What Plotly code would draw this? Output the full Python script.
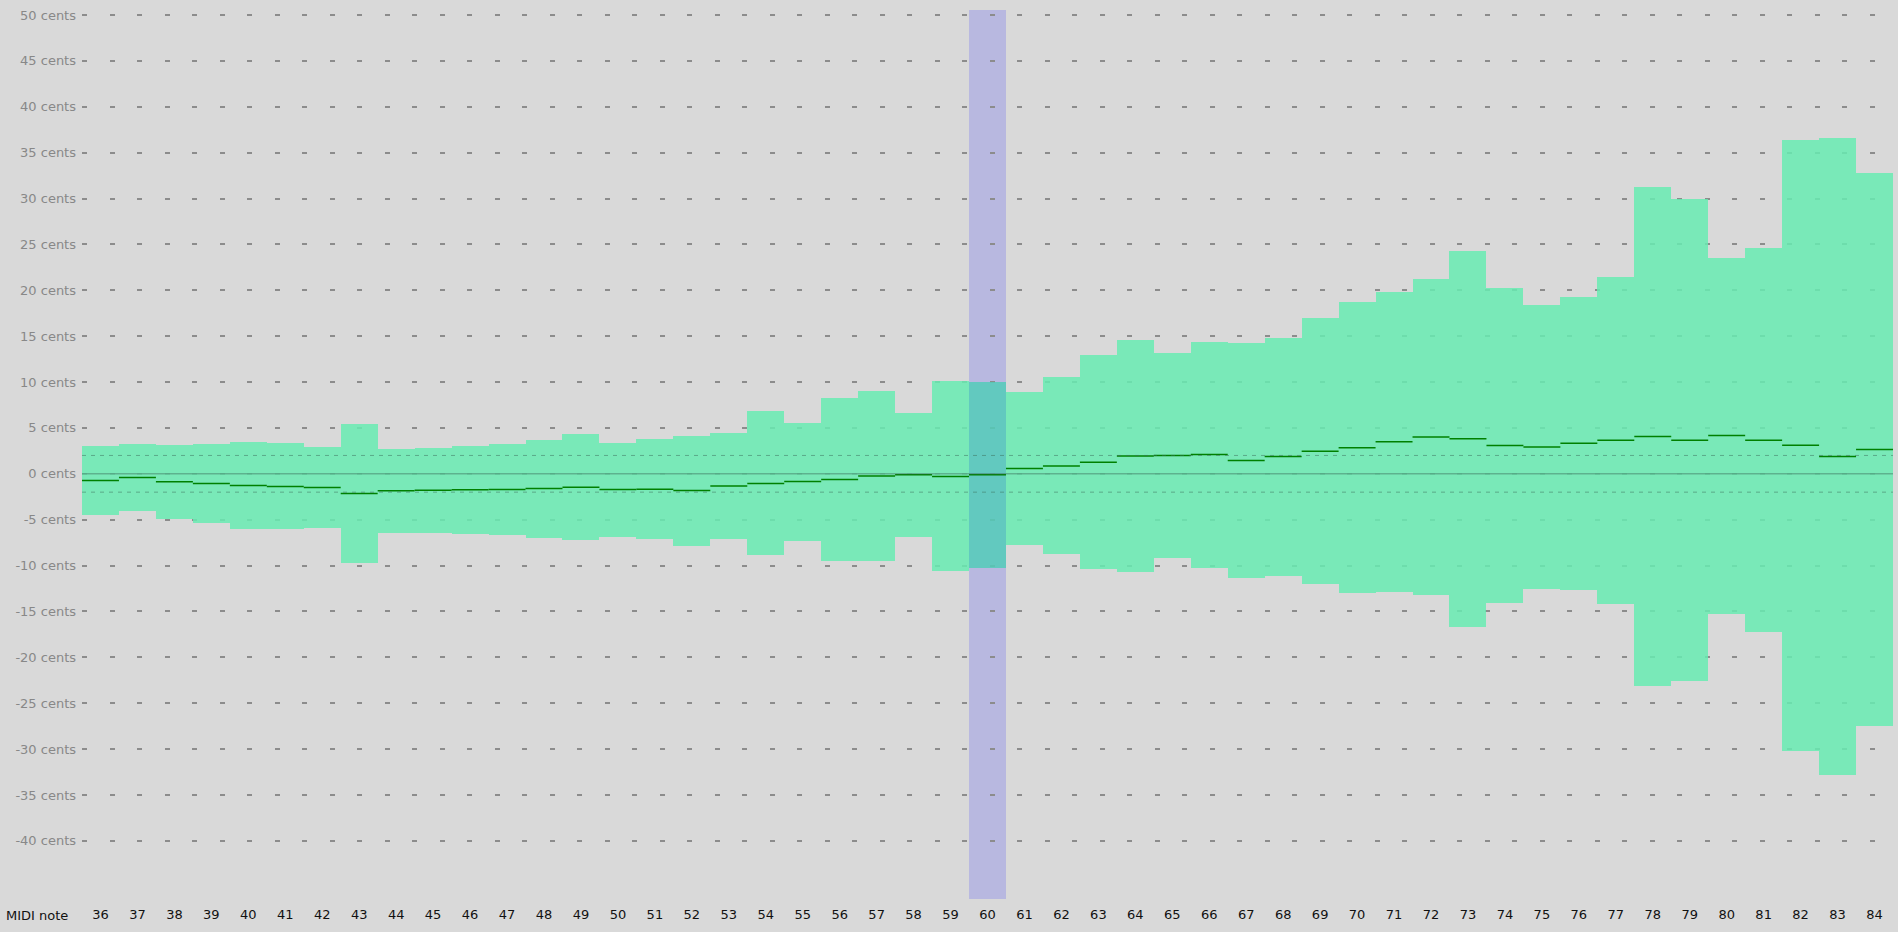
import plotly.graph_objects as go

notes = list(range(36, 85))

high = [3.0, 3.2, 3.1, 3.2, 3.5, 3.35, 2.9, 5.4, 2.7, 2.8, 3.0, 3.2, 3.65, 4.3, 3.4,
        3.8, 4.1, 4.4, 6.8, 5.55, 8.25, 9.0, 6.6, 10.1, 10.0, 8.95, 10.5, 12.9, 14.6,
        13.2, 14.35, 14.25, 14.8, 16.95, 18.7, 19.8, 21.2, 24.25, 20.25, 18.4, 19.3,
        21.5, 31.25, 29.95, 23.5, 24.6, 36.4, 36.6, 32.8]

low = [-4.5, -4.05, -4.95, -5.35, -6.0, -6.0, -5.9, -9.7, -6.45, -6.45, -6.55, -6.7,
       -6.95, -7.2, -6.9, -7.15, -7.85, -7.15, -8.85, -7.3, -9.5, -9.5, -6.9, -10.6,
       -10.25, -7.8, -8.75, -10.4, -10.7, -9.2, -10.25, -11.3, -11.1, -12.0, -13.0,
       -12.85, -13.2, -16.65, -14.05, -12.55, -12.7, -14.2, -23.1, -22.6, -15.3,
       -17.25, -30.2, -32.85, -27.5]

median = [-0.72, -0.4, -0.87, -1.05, -1.27, -1.38, -1.49, -2.14, -1.85, -1.78, -1.74,
          -1.7, -1.6, -1.45, -1.7, -1.67, -1.81, -1.34, -1.05, -0.83, -0.61, -0.25,
          -0.1, -0.29, -0.1, 0.58, 0.84, 1.27, 1.93, 2.0, 2.11, 1.46, 1.9, 2.47, 2.83,
          3.49, 4.0, 3.81, 3.09, 2.93, 3.33, 3.67, 4.06, 3.67, 4.18, 3.67, 3.1, 1.9, 2.65]

highlight_note = 60
tolerance = 2
y_ticks = list(range(-40, 55, 5))
y_tick_labels = [f"{v} cents" for v in y_ticks]
x_tick_labels = [str(n) for n in notes]

BAR = "rgba(103,235,177,0.85)"
BAR_HL = "rgba(82,203,184,0.85)"

fig = go.Figure()

fig.add_trace(go.Bar(
    x=notes,
    y=[h - l for h, l in zip(high, low)],
    base=low,
    width=1,
    marker=dict(color=[BAR_HL if n == highlight_note else BAR for n in notes],
                line=dict(width=0)),
    hoverinfo="skip",
    showlegend=False,
))

mx, my = [], []
for n, m in zip(notes, median):
    mx += [n - 0.5, n + 0.5, None]
    my += [m, m, None]
fig.add_trace(go.Scatter(
    x=mx, y=my, mode="lines",
    line=dict(color="#008000", width=1.5),
    hoverinfo="skip", showlegend=False,
))

shapes = [
    dict(type="rect", xref="x", yref="paper", x0=highlight_note - 0.5,
         x1=highlight_note + 0.5, y0=0, y1=1, fillcolor="rgb(184,184,224)",
         line=dict(width=0), layer="below"),
    dict(type="line", xref="paper", yref="y", x0=0, x1=1, y0=0, y1=0,
         line=dict(color="rgba(60,110,90,0.45)", width=1.5), layer="above"),
    dict(type="line", xref="paper", yref="y", x0=0, x1=1, y0=tolerance, y1=tolerance,
         line=dict(color="rgba(60,110,90,0.5)", width=1, dash="4px,5px"), layer="above"),
    dict(type="line", xref="paper", yref="y", x0=0, x1=1, y0=-tolerance, y1=-tolerance,
         line=dict(color="rgba(60,110,90,0.5)", width=1, dash="4px,5px"), layer="above"),
]

fig.update_layout(
    width=1898, height=932,
    margin=dict(l=82, r=5, t=10, b=33),
    paper_bgcolor="#d9d9d9",
    plot_bgcolor="#d9d9d9",
    font=dict(family="DejaVu Sans, Verdana, sans-serif", size=13),
    shapes=shapes,
    bargap=0,
    showlegend=False,
    xaxis=dict(
        range=[35.5, 84.5],
        tickmode="array", tickvals=notes, ticktext=x_tick_labels,
        showgrid=False, zeroline=False, showline=False, ticks="",
        tickfont=dict(color="#111111", size=13),
        ticklabelstandoff=6,
        fixedrange=True,
    ),
    yaxis=dict(
        range=[-46.33, 50.54],
        tickmode="array", tickvals=y_ticks, ticktext=y_tick_labels,
        showgrid=True, gridcolor="#8c8c8c", gridwidth=1.5, griddash="5px,22.5px",
        zeroline=False, showline=False, ticks="",
        tickfont=dict(color="#888888", size=13),
        ticklabelstandoff=5,
        fixedrange=True,
    ),
    annotations=[dict(
        text="MIDI note", xref="paper", yref="paper", x=0, y=0,
        xanchor="right", yanchor="top", xshift=-12, yshift=-7,
        showarrow=False, font=dict(color="#111111", size=13),
    )],
)

fig.write_html(
    "out.html",
    config={"displayModeBar": False},
    post_script="document.body.style.margin='0';document.body.style.overflow='hidden';",
)
